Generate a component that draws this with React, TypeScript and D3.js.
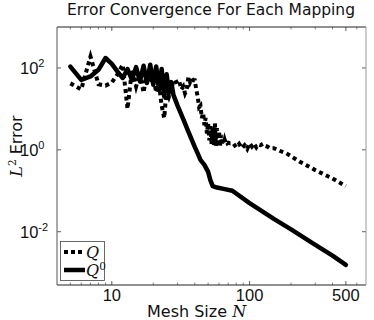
import React from "react";
import * as d3 from "d3";

const title = "Error Convergence For Each Mapping";
const xTicks = [10, 100, 500];
const yTicks = [1e-2, 1, 1e2];
const yTickExp = ["-2", "0", "2"];

const nQ0 = [5, 6, 7, 8, 9, 10, 11, 12, 13, 14, 15, 16, 17, 18, 19, 20, 21, 22, 23, 24, 25, 26, 27, 28, 30, 33, 36, 40, 42, 44, 47, 50, 52, 54, 58, 66, 75, 100, 150, 200, 300, 400, 500];
const q0Values = [108, 51, 62, 90, 175, 126, 81, 57, 94, 51, 105, 47, 113, 43, 120, 39, 109, 29, 94, 20, 70, 25, 45, 22, 12, 5.6, 2.76, 1.18, 0.82, 0.57, 0.43, 0.29, 0.18, 0.13, 0.12, 0.11, 0.1, 0.05, 0.0206, 0.0114, 0.0048, 0.0026, 0.00155];

const nQ = [5, 6, 7, 8, 9, 10, 11, 12, 13, 14, 15, 16, 17, 18, 19, 20, 21, 22, 23, 24, 25, 26, 27, 28, 29, 30, 31, 32, 33, 34, 35, 36, 37, 38, 39, 40, 41, 42, 43, 44, 45, 46, 47, 48, 49, 50, 51, 52, 53, 54, 55, 56, 57, 58, 59, 60, 61, 62, 63, 64, 65, 66, 67, 68, 69, 70, 72, 76, 80, 84, 88, 92, 96, 100, 104, 108, 112, 116, 120, 125, 130, 135, 140, 150, 165, 185, 230, 300, 400, 500];
const qValues = [42, 30, 190, 40, 37, 44, 70, 120, 10, 90, 35, 75, 25, 80, 45, 60, 25, 40, 12, 6, 30, 20, 29, 50, 51, 40, 45, 30, 35, 24, 30, 62, 45, 55, 50, 50, 30, 20, 11, 12, 6, 8, 4, 6, 2.5, 4.5, 1.7, 3.8, 1.4, 3.5, 1.3, 4.5, 1.25, 3.4, 1.2, 2.8, 1.2, 2.3, 1.3, 2.0, 1.4, 1.76, 1.5, 1.6, 1.45, 1.5, 1.45, 1.46, 1.15, 1.4, 1.1, 1.3, 1.05, 1.45, 1.2, 1.4, 1.15, 1.35, 1.3, 1.4, 1.25, 1.2, 1.1, 1.1, 0.95, 0.82, 0.52, 0.32, 0.2, 0.13];

const L = 57, R = 366, T = 27, B = 285;

export default function App() {
  const x = d3.scaleLog().domain([4, 700]).range([L, R]);
  const y = d3.scaleLog().domain([5e-4, 1e3]).range([B, T]);
  const line = d3
    .line<[number, number]>()
    .x((d) => x(d[0]))
    .y((d) => y(d[1]));
  const q0Data = nQ0.map((n, i) => [n, q0Values[i]] as [number, number]);
  const qData = nQ.map((n, i) => [n, qValues[i]] as [number, number]);
  const minorX: number[] = [];
  [1, 10, 100].forEach((dec) => {
    for (let k = 2; k <= 9; k++) {
      const v = k * dec;
      if (v > 4 && v < 700 && !xTicks.includes(v)) minorX.push(v);
    }
  });
  const sans = "DejaVu Sans, sans-serif";
  const serif = "DejaVu Serif, serif";
  const num = "Liberation Sans, Arial, sans-serif";
  return (
    <svg width={374} height={320} style={{ position: "absolute", left: 0, top: 0, background: "#fff" }}>
      <rect x={0} y={0} width={374} height={320} fill="#fff" />
      <text x={211} y={15} textAnchor="middle" fontFamily={sans} fontSize={15.5} fill="#111">{title}</text>
      <defs>
        <clipPath id="plotclip"><rect x={L} y={T} width={R - L} height={B - T} /></clipPath>
      </defs>
      {minorX.map((v) => (
        <g key={"mx" + v} stroke="#333" strokeWidth={0.6}>
          <line x1={x(v)} x2={x(v)} y1={B} y2={B - 2.5} />
          <line x1={x(v)} x2={x(v)} y1={T} y2={T + 2.5} />
        </g>
      ))}
      {xTicks.map((v) => (
        <g key={"x" + v}>
          <line x1={x(v)} x2={x(v)} y1={B} y2={B - 4} stroke="#333" strokeWidth={0.8} />
          <line x1={x(v)} x2={x(v)} y1={T} y2={T + 4} stroke="#333" strokeWidth={0.8} />
          <text x={x(v)} y={300.5} textAnchor="middle" fontFamily={num} fontSize={16.5} fill="#111">{v}</text>
        </g>
      ))}
      {yTicks.map((v, i) => (
        <g key={"y" + v}>
          <line x1={L} x2={L + 4} y1={y(v)} y2={y(v)} stroke="#333" strokeWidth={0.8} />
          <line x1={R} x2={R - 4} y1={y(v)} y2={y(v)} stroke="#333" strokeWidth={0.8} />
          <text x={20} y={y(v) + 6.5} fontFamily={num} fontSize={16.5} fill="#111">
            10<tspan dy={-7.5} fontSize={11}>{yTickExp[i]}</tspan>
          </text>
        </g>
      ))}
      <g clipPath="url(#plotclip)">
        <path d={line(qData) || ""} fill="none" stroke="#000" strokeWidth={4} strokeDasharray="4 3.5" strokeLinecap="butt" />
        <path d={line(q0Data) || ""} fill="none" stroke="#000" strokeWidth={4.5} strokeLinejoin="round" strokeLinecap="round" />
      </g>
      <line x1={L} x2={R} y1={T} y2={T} stroke="#222" strokeWidth={1} />
      <line x1={L} x2={R} y1={B} y2={B} stroke="#222" strokeWidth={1} />
      <line x1={L} x2={L} y1={T} y2={B} stroke="#555" strokeWidth={1} />
      <line x1={R} x2={R} y1={T} y2={B} stroke="#999" strokeWidth={1} />
      <rect x={60.5} y={241.5} width={44} height={39} fill="#fff" stroke="#444" strokeWidth={0.8} />
      <line x1={64} x2={85} y1={252} y2={252} stroke="#000" strokeWidth={4} strokeDasharray="4 3" />
      <line x1={64} x2={85} y1={270} y2={270} stroke="#000" strokeWidth={4.5} />
      <text x={86} y={257.5} fontFamily={serif} fontStyle="italic" fontSize={16} fill="#111">Q</text>
      <text x={86} y={276} fontFamily={serif} fontStyle="italic" fontSize={16} fill="#111">
        Q<tspan dy={-6.5} fontSize={10.5} fontStyle="normal">0</tspan>
      </text>
      <text x={147} y={317} fontFamily={sans} fontSize={16} fill="#111">
        Mesh Size <tspan fontFamily={serif} fontStyle="italic">N</tspan>
      </text>
      <text transform="translate(22,146) rotate(-90)" textAnchor="middle" fontFamily={sans} fontSize={16} fill="#111">
        <tspan fontFamily={serif} fontStyle="italic">L</tspan>
        <tspan dy={-6.5} fontSize={10.5} fontFamily={serif}>2</tspan>
        <tspan dy={6.5}> Error</tspan>
      </text>
    </svg>
  );
}
